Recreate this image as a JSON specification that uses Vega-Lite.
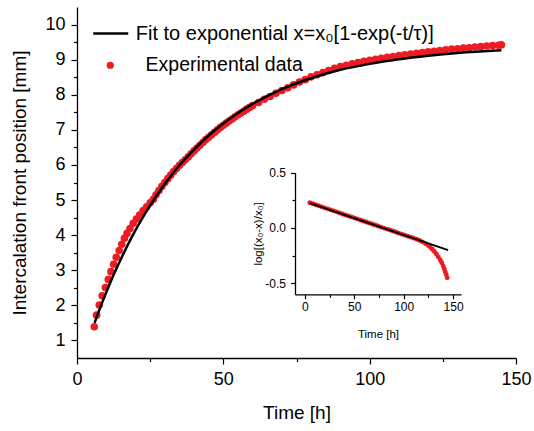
{
  "$schema": "https://vega.github.io/schema/vega-lite/v6.json",
  "width": 439,
  "height": 351,
  "autosize": {"type": "none"},
  "padding": {"left": 77, "top": 7, "right": 18, "bottom": 73},
  "background": "white",
  "config": {
    "view": {"stroke": null},
    "font": "Liberation Sans",
    "axis": {
      "grid": false,
      "domainColor": "black",
      "domainWidth": 1.3,
      "tickColor": "black",
      "tickWidth": 1.2,
      "labelColor": "black",
      "titleColor": "black",
      "labelFont": "Liberation Sans",
      "titleFont": "Liberation Sans",
      "titleFontWeight": "normal",
      "labelFlush": false,
      "labelOverlap": false
    }
  },
  "datasets": {
    "fit": [
      {"t": 6, "x": 1.5}, {"t": 8, "x": 1.95}, {"t": 10, "x": 2.37}, {"t": 12, "x": 2.77},
      {"t": 15, "x": 3.32}, {"t": 18, "x": 3.83}, {"t": 21, "x": 4.29}, {"t": 25, "x": 4.85},
      {"t": 30, "x": 5.46}, {"t": 35, "x": 5.99}, {"t": 40, "x": 6.44}, {"t": 45, "x": 6.84},
      {"t": 50, "x": 7.18}, {"t": 55, "x": 7.48}, {"t": 60, "x": 7.74}, {"t": 70, "x": 8.16},
      {"t": 80, "x": 8.47}, {"t": 90, "x": 8.71}, {"t": 100, "x": 8.88}, {"t": 110, "x": 9.01},
      {"t": 120, "x": 9.11}, {"t": 130, "x": 9.19}, {"t": 145, "x": 9.268}
    ],
    "exp": [
      {"t": 5.9, "x": 1.39}, {"t": 6.7, "x": 1.72}, {"t": 7.6, "x": 2.01}, {"t": 8.6, "x": 2.27},
      {"t": 9.7, "x": 2.51}, {"t": 10.7, "x": 2.74}, {"t": 11.6, "x": 2.96}, {"t": 12.5, "x": 3.17},
      {"t": 13.4, "x": 3.37}, {"t": 14.4, "x": 3.56}, {"t": 15.3, "x": 3.74}, {"t": 16.2, "x": 3.91},
      {"t": 17.1, "x": 4.05}, {"t": 18.1, "x": 4.19}, {"t": 19.2, "x": 4.34}, {"t": 20.3, "x": 4.46},
      {"t": 21.4, "x": 4.57}, {"t": 22.6, "x": 4.7}, {"t": 23.8, "x": 4.81}, {"t": 25, "x": 4.92},
      {"t": 26.1, "x": 5.02}, {"t": 27, "x": 5.15}, {"t": 28, "x": 5.27}, {"t": 29, "x": 5.39},
      {"t": 30, "x": 5.5}, {"t": 31, "x": 5.61}, {"t": 32, "x": 5.71}, {"t": 33, "x": 5.81},
      {"t": 34, "x": 5.9}, {"t": 35, "x": 5.99}, {"t": 36, "x": 6.07}, {"t": 37, "x": 6.15},
      {"t": 38, "x": 6.23}, {"t": 39, "x": 6.32}, {"t": 40, "x": 6.4}, {"t": 41, "x": 6.48},
      {"t": 42, "x": 6.56}, {"t": 43, "x": 6.64}, {"t": 44, "x": 6.72}, {"t": 45, "x": 6.79},
      {"t": 46, "x": 6.86}, {"t": 47, "x": 6.93}, {"t": 48, "x": 7.0}, {"t": 49, "x": 7.07},
      {"t": 50, "x": 7.13}, {"t": 51, "x": 7.19}, {"t": 52, "x": 7.25}, {"t": 53, "x": 7.31},
      {"t": 54, "x": 7.37}, {"t": 55, "x": 7.43}, {"t": 56, "x": 7.48}, {"t": 57, "x": 7.53},
      {"t": 58, "x": 7.59}, {"t": 59, "x": 7.64}, {"t": 60, "x": 7.69}, {"t": 62, "x": 7.78},
      {"t": 64, "x": 7.87}, {"t": 66, "x": 7.95}, {"t": 68, "x": 8.04}, {"t": 70, "x": 8.12},
      {"t": 72, "x": 8.2}, {"t": 74, "x": 8.28}, {"t": 76, "x": 8.36}, {"t": 78, "x": 8.43},
      {"t": 80, "x": 8.51}, {"t": 82, "x": 8.57}, {"t": 84, "x": 8.63}, {"t": 86, "x": 8.69},
      {"t": 88, "x": 8.75}, {"t": 90, "x": 8.8}, {"t": 92, "x": 8.84}, {"t": 94, "x": 8.88},
      {"t": 96, "x": 8.92}, {"t": 98, "x": 8.95}, {"t": 100, "x": 8.98}, {"t": 102, "x": 9.01},
      {"t": 104, "x": 9.04}, {"t": 106, "x": 9.07}, {"t": 108, "x": 9.09}, {"t": 110, "x": 9.12},
      {"t": 112, "x": 9.14}, {"t": 114, "x": 9.16}, {"t": 116, "x": 9.18}, {"t": 118, "x": 9.2},
      {"t": 120, "x": 9.22}, {"t": 122, "x": 9.24}, {"t": 124, "x": 9.26}, {"t": 126, "x": 9.28},
      {"t": 128, "x": 9.3}, {"t": 130, "x": 9.31}, {"t": 132, "x": 9.33}, {"t": 134, "x": 9.34},
      {"t": 136, "x": 9.36}, {"t": 138, "x": 9.37}, {"t": 140, "x": 9.39}, {"t": 142, "x": 9.4},
      {"t": 144, "x": 9.41}, {"t": 145, "x": 9.42}
    ],
    "inset_fit": [
      {"t": 5, "y": 0.225}, {"t": 145, "y": -0.2}
    ],
    "inset_exp": [
      {"t": 5, "y": 0.228}, {"t": 8, "y": 0.219}, {"t": 11, "y": 0.21}, {"t": 14, "y": 0.201},
      {"t": 17, "y": 0.191}, {"t": 20, "y": 0.182}, {"t": 23, "y": 0.173}, {"t": 26, "y": 0.164},
      {"t": 29, "y": 0.155}, {"t": 32, "y": 0.146}, {"t": 35, "y": 0.137}, {"t": 38, "y": 0.127},
      {"t": 41, "y": 0.118}, {"t": 44, "y": 0.109}, {"t": 47, "y": 0.1}, {"t": 50, "y": 0.091},
      {"t": 53, "y": 0.082}, {"t": 56, "y": 0.072}, {"t": 59, "y": 0.063}, {"t": 62, "y": 0.054},
      {"t": 65, "y": 0.045}, {"t": 68, "y": 0.036}, {"t": 71, "y": 0.027}, {"t": 74, "y": 0.018},
      {"t": 77, "y": 0.008}, {"t": 80, "y": -0.001}, {"t": 83, "y": -0.01}, {"t": 86, "y": -0.019},
      {"t": 89, "y": -0.028}, {"t": 92, "y": -0.037}, {"t": 95, "y": -0.047}, {"t": 98, "y": -0.056},
      {"t": 101, "y": -0.065}, {"t": 104, "y": -0.074}, {"t": 107, "y": -0.083}, {"t": 110, "y": -0.092},
      {"t": 113, "y": -0.102}, {"t": 116, "y": -0.113}, {"t": 119, "y": -0.126}, {"t": 122, "y": -0.142},
      {"t": 125, "y": -0.16}, {"t": 127, "y": -0.175}, {"t": 129, "y": -0.192}, {"t": 131, "y": -0.212},
      {"t": 133, "y": -0.235}, {"t": 135, "y": -0.262}, {"t": 137, "y": -0.29}, {"t": 138.5, "y": -0.315},
      {"t": 140, "y": -0.345}, {"t": 141, "y": -0.37}, {"t": 142, "y": -0.395}, {"t": 143, "y": -0.42},
      {"t": 144, "y": -0.45}
    ]
  },
  "layer": [
    {
      "data": {"name": "exp"},
      "mark": {"type": "point", "filled": true, "size": 58, "opacity": 1, "strokeWidth": 0},
      "encoding": {
        "x": {
          "field": "t", "type": "quantitative",
          "scale": {"domain": [0, 150], "nice": false, "zero": false},
          "axis": {
            "orient": "bottom",
            "values": [0, 25, 50, 75, 100, 125, 150],
            "labelExpr": "datum.value % 50 === 0 ? format(datum.value, 'd') : ''",
            "tickSize": {"condition": {"test": "datum.value % 50 === 0", "value": 6}, "value": 3.5},
            "labelFontSize": 18,
            "labelPadding": 6,
            "title": "Time [h]",
            "titleFontSize": 19,
            "titlePadding": 15
          }
        },
        "y": {
          "field": "x", "type": "quantitative",
          "scale": {"domain": [0.5, 10.5], "nice": false, "zero": false},
          "axis": {
            "orient": "left",
            "values": [1, 1.5, 2, 2.5, 3, 3.5, 4, 4.5, 5, 5.5, 6, 6.5, 7, 7.5, 8, 8.5, 9, 9.5, 10],
            "labelExpr": "datum.value % 1 === 0 ? format(datum.value, 'd') : ''",
            "tickSize": {"condition": {"test": "datum.value % 1 === 0", "value": 6}, "value": 3.5},
            "labelFontSize": 18,
            "labelPadding": 6,
            "title": "Intercalation front position [mm]",
            "titleFontSize": 19,
            "titlePadding": 15
          }
        },
        "color": {
          "datum": "Experimental data", "type": "nominal",
          "scale": {"range": ["#ed1c24"]},
          "legend": {
            "title": null, "orient": "none", "legendX": 23.5, "legendY": 48.5,
            "symbolType": "circle", "symbolSize": 52, "symbolStrokeWidth": 0,
            "labelFont": "Liberation Sans", "labelFontSize": 19.5, "labelColor": "black",
            "labelOffset": 25.6, "labelLimit": 600, "padding": 0
          }
        }
      }
    },
    {
      "encoding": {
        "x": {
          "field": "t", "type": "quantitative",
          "scale": {"domain": [0, 150], "nice": false, "zero": false},
          "axis": null
        },
        "y": {
          "field": "x", "type": "quantitative",
          "scale": {"domain": [0.5, 10.5], "nice": false, "zero": false},
          "axis": null
        }
      },
      "layer": [
        {
          "data": {"name": "fit"},
          "mark": {"type": "line", "strokeWidth": 2.5, "interpolate": "monotone"},
          "encoding": {
            "stroke": {
              "datum": "Fit to exponential x=x₀[1-exp(-t/τ)]", "type": "nominal",
              "scale": {"range": ["black"]},
              "legend": {
                "title": null, "orient": "none", "legendX": 14.75, "legendY": 7.5,
                "symbolType": "stroke", "symbolSize": 1225, "symbolStrokeWidth": 2.5,
                "labelFont": "Liberation Sans", "labelFontSize": 20, "labelColor": "black",
                "labelOffset": 6, "labelLimit": 600, "padding": 0
              }
            }
          }
        },
        {
          "data": {"values": [{}]},
          "mark": {"type": "rule", "color": "black", "strokeWidth": 1.3},
          "encoding": {
            "x": {"datum": 0, "type": "quantitative", "axis": null},
            "x2": {"datum": 150},
            "y": {"datum": 10.5, "type": "quantitative", "axis": null}
          }
        },
        {
          "data": {"values": [{}]},
          "mark": {"type": "rule", "color": "black", "strokeWidth": 1.3},
          "encoding": {
            "x": {"datum": 150, "type": "quantitative", "axis": null},
            "y": {"datum": 0.5, "type": "quantitative", "axis": null},
            "y2": {"datum": 10.5}
          }
        }
      ]
    },
    {
      "data": {"name": "inset_exp"},
      "mark": {"type": "point", "filled": true, "size": 24, "opacity": 1, "strokeWidth": 0, "color": "#ed1c24"},
      "encoding": {
        "x": {
          "field": "t", "type": "quantitative",
          "scale": {"domain": [-10, 158], "range": [218, 384], "nice": false, "zero": false},
          "axis": {
            "orient": "bottom",
            "offset": -63.7,
            "values": [0, 25, 50, 75, 100, 125, 150],
            "labelExpr": "datum.value % 50 === 0 ? datum.label : ''",
            "tickSize": {"condition": {"test": "datum.value % 50 === 0", "value": 4.5}, "value": 3},
            "labelFontSize": 12,
            "labelPadding": 3,
            "title": "Time [h]",
            "titleFontSize": 11.5,
            "titlePadding": 16
          }
        },
        "y": {
          "field": "y", "type": "quantitative",
          "scale": {"domain": [-0.6, 0.5], "range": [287.3, 165.7], "nice": false, "zero": false},
          "axis": {
            "orient": "left",
            "offset": -218,
            "values": [-0.5, -0.25, 0, 0.25, 0.5],
            "labelExpr": "(datum.value === 0.5 || datum.value === 0 || datum.value === -0.5) ? replace(format(datum.value, '.1f'), '\u2212', '-') : ''",
            "tickSize": {"condition": {"test": "datum.value === 0.5 || datum.value === 0 || datum.value === -0.5", "value": 4.5}, "value": 3},
            "labelFontSize": 12,
            "labelPadding": 5,
            "title": "log[(x₀-x)/x₀]",
            "titleFontSize": 11.5,
            "titlePadding": 1
          }
        }
      }
    },
    {
      "encoding": {
        "x": {
          "field": "t", "type": "quantitative",
          "scale": {"domain": [-10, 158], "range": [218, 384], "nice": false, "zero": false},
          "axis": null
        },
        "y": {
          "field": "y", "type": "quantitative",
          "scale": {"domain": [-0.6, 0.5], "range": [287.3, 165.7], "nice": false, "zero": false},
          "axis": null
        }
      },
      "layer": [
        {
          "data": {"name": "inset_fit"},
          "mark": {"type": "line", "strokeWidth": 1.8, "color": "black"}
        },
        {
          "data": {"values": [{}]},
          "mark": {"type": "rule", "color": "black", "strokeWidth": 1.3},
          "encoding": {
            "x": {"datum": -10, "type": "quantitative", "axis": null},
            "x2": {"datum": 158},
            "y": {"datum": 0.5, "type": "quantitative", "axis": null}
          }
        },
        {
          "data": {"values": [{}]},
          "mark": {"type": "rule", "color": "black", "strokeWidth": 1.3},
          "encoding": {
            "x": {"datum": 158, "type": "quantitative", "axis": null},
            "y": {"datum": -0.6, "type": "quantitative", "axis": null},
            "y2": {"datum": 0.5}
          }
        }
      ]
    }
  ],
  "resolve": {"scale": {"x": "independent", "y": "independent"}}
}
